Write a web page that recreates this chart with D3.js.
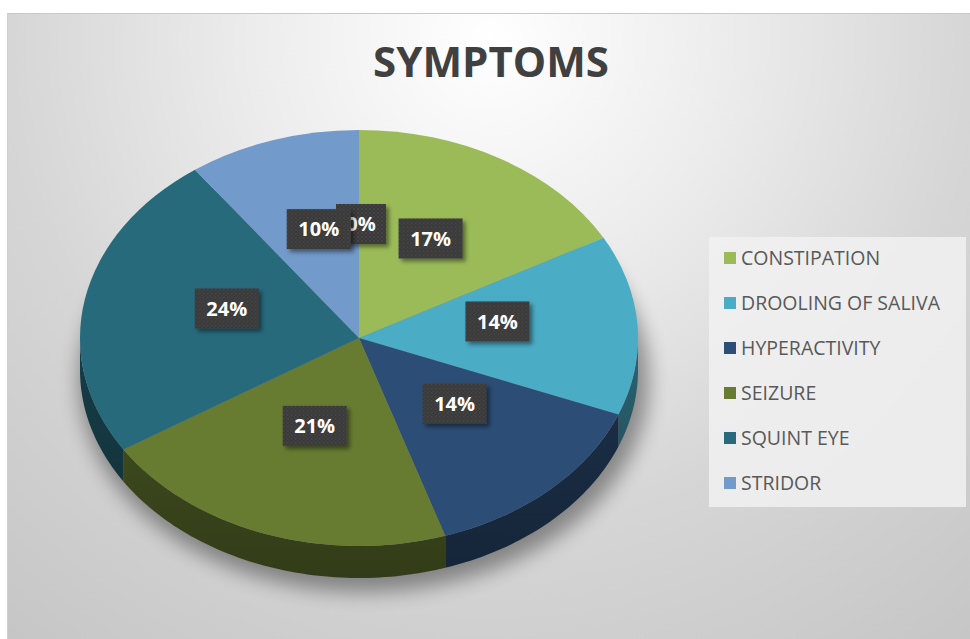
<!DOCTYPE html>
<html>
<head>
<meta charset="utf-8">
<script src="https://cdn.jsdelivr.net/npm/d3@7"></script>
<style>
  html, body { margin: 0; padding: 0; background: #ffffff; }
  svg { display: block; }
</style>
</head>
<body>
<svg id="chart" width="970" height="639"></svg>
<script>
// Symptom shares (percent); the last, unnamed category is an empty row.
const categories = ["CONSTIPATION", "DROOLING OF SALIVA", "HYPERACTIVITY", "SEIZURE", "SQUINT EYE", "STRIDOR", ""];
const values = [17, 14, 14, 21, 24, 10, 0];
const colors = ["#9bbb59", "#4bacc6", "#2c4d75", "#677b31", "#276a7c", "#729aca", "#777777"];
const chartTitle = "SYMPTOMS";

const svg = d3.select("#chart");
const W = 970, H = 639;

// ---- defs: background gradient, shadows, label texture
const defs = svg.append("defs");
const bg = defs.append("radialGradient").attr("id", "bgGrad")
  .attr("gradientUnits", "userSpaceOnUse")
  .attr("cx", 490).attr("cy", 40).attr("r", 800);
bg.append("stop").attr("offset", 0).attr("stop-color", "#ffffff");
bg.append("stop").attr("offset", 0.3).attr("stop-color", "#ececec");
bg.append("stop").attr("offset", 0.6).attr("stop-color", "#d6d6d6");
bg.append("stop").attr("offset", 1).attr("stop-color", "#c4c4c4");

const pieShadow = defs.append("filter").attr("id", "pieShadow")
  .attr("x", "-20%").attr("y", "-20%").attr("width", "140%").attr("height", "140%");
pieShadow.append("feGaussianBlur").attr("stdDeviation", 10);

const lblShadow = defs.append("filter").attr("id", "lblShadow")
  .attr("x", "-30%").attr("y", "-30%").attr("width", "160%").attr("height", "160%");
lblShadow.append("feDropShadow").attr("dx", 3).attr("dy", 3)
  .attr("stdDeviation", 2).attr("flood-color", "#000").attr("flood-opacity", 0.45);

const dots = defs.append("pattern").attr("id", "dots")
  .attr("patternUnits", "userSpaceOnUse").attr("width", 4).attr("height", 4);
dots.append("rect").attr("width", 4).attr("height", 4).attr("fill", "#383838");
dots.append("circle").attr("cx", 1).attr("cy", 1).attr("r", 0.8).attr("fill", "#555555");
dots.append("circle").attr("cx", 3).attr("cy", 3).attr("r", 0.8).attr("fill", "#4a4a4a");

// ---- chart area background
svg.append("rect").attr("x", 7).attr("y", 13).attr("width", W - 7).attr("height", H - 13)
  .attr("fill", "url(#bgGrad)");
svg.append("line").attr("x1", 7).attr("x2", W).attr("y1", 13.5).attr("y2", 13.5)
  .attr("stroke", "#c9c9c9");
svg.append("line").attr("x1", 7.5).attr("x2", 7.5).attr("y1", 13).attr("y2", H)
  .attr("stroke", "#d0d0d0");

// ---- title
svg.append("text").attr("x", 491).attr("y", 77)
  .attr("text-anchor", "middle")
  .attr("font-family", "'Open Sans', sans-serif").attr("font-weight", 700)
  .attr("font-size", 42).attr("fill", "#404040")
  .text(chartTitle);

// ---- 3D pie geometry
const cx = 359, cy = 338, rx = 279, ry = 208, depth = 32;
const ky = ry / rx;

const data = categories.map((name, i) => ({ name, value: values[i], color: colors[i], i }));
const pie = d3.pie().sort(null).value(d => d.value);
const slices = pie(data);
const total = d3.sum(values);

const arc = d3.arc().innerRadius(0).outerRadius(rx);

// point on the ellipse rim for a pie angle (0 = 12 o'clock, clockwise)
const rim = (a, dy = 0) => [cx + rx * Math.sin(a), cy - ry * Math.cos(a) + dy];

// side wall of one slice: the part of its rim on the front half
function sidePath(s) {
  const a0 = Math.max(s.startAngle, Math.PI / 2);
  const a1 = Math.min(s.endAngle, 3 * Math.PI / 2);
  if (a1 <= a0) return null;
  const n = Math.max(2, Math.ceil((a1 - a0) / 0.02));
  const angs = d3.range(n + 1).map(k => a0 + (a1 - a0) * k / n);
  const top = angs.map(a => rim(a));
  const bot = angs.slice().reverse().map(a => rim(a, depth));
  return d3.line()(top.concat(bot)) + "Z";
}

const pieG = svg.append("g");

// soft shadow beneath the pie body
pieG.append("ellipse")
  .attr("cx", cx + 5).attr("cy", cy + depth + 10)
  .attr("rx", rx + 6).attr("ry", ry + 4)
  .attr("fill", "#000").attr("opacity", 0.38)
  .attr("filter", "url(#pieShadow)");

// side walls
const sides = defs.selectAll("linearGradient.side").data(slices).enter()
  .append("linearGradient").attr("class", "side")
  .attr("id", d => "side" + d.index)
  .attr("x1", 0).attr("x2", 0).attr("y1", 0).attr("y2", 1);
sides.append("stop").attr("offset", 0).attr("stop-color", d => d3.color(d.data.color).darker(1.5));
sides.append("stop").attr("offset", 1).attr("stop-color", d => d3.color(d.data.color).darker(2.0));

pieG.selectAll("path.side").data(slices.filter(s => sidePath(s))).enter()
  .append("path").attr("class", "side")
  .attr("d", sidePath)
  .attr("fill", d => `url(#side${d.index})`);

// top faces (circular arcs squashed into the ellipse)
const topG = pieG.append("g")
  .attr("transform", `translate(${cx},${cy}) scale(1,${ky})`);
topG.selectAll("path.top").data(slices.filter(s => s.value > 0)).enter()
  .append("path").attr("class", "top")
  .attr("d", arc)
  .attr("fill", d => d.data.color);

// ---- data labels (empty rows drawn first so they sit underneath)
const labelOrder = slices.slice().sort((a, b) => (a.value > 0) - (b.value > 0));
const lbl = svg.append("g").selectAll("g.lbl").data(labelOrder).enter()
  .append("g").attr("class", "lbl")
  .attr("transform", d => {
    const m = (d.startAngle + d.endAngle) / 2;
    const x = cx + 0.49 * rx * Math.sin(m) + 2;
    const y = cy - 0.5 * ry * Math.cos(m) - 10;
    return `translate(${x},${y})`;
  });
const pct = d => Math.round(d.value / total * 100) + "%";
lbl.append("rect")
  .attr("x", d => pct(d).length > 2 ? -32 : -25)
  .attr("width", d => pct(d).length > 2 ? 64 : 50)
  .attr("y", -20).attr("height", 40)
  .attr("fill", "url(#dots)")
  .attr("filter", "url(#lblShadow)");
lbl.append("text")
  .attr("text-anchor", "middle").attr("dy", "0.36em")
  .attr("font-family", "'Open Sans', sans-serif").attr("font-weight", 700)
  .attr("font-size", 20).attr("fill", "#ffffff")
  .text(pct);

// ---- legend
const legendItems = data.filter(d => d.name !== "");
const legend = svg.append("g");
legend.append("rect").attr("x", 709).attr("y", 237).attr("width", 257).attr("height", 270)
  .attr("fill", "#f1f1f1").attr("opacity", 0.85);
const li = legend.selectAll("g.item").data(legendItems).enter()
  .append("g").attr("class", "item")
  .attr("transform", (d, i) => `translate(724,${258 + i * 45})`);
li.append("rect").attr("x", 0).attr("y", -6).attr("width", 12).attr("height", 12)
  .attr("fill", d => d.color);
li.append("text").attr("x", 17).attr("dy", "0.36em")
  .attr("font-family", "'Open Sans', sans-serif").attr("font-size", 19.5)
  .attr("fill", "#595959")
  .text(d => d.name);
</script>
</body>
</html>
